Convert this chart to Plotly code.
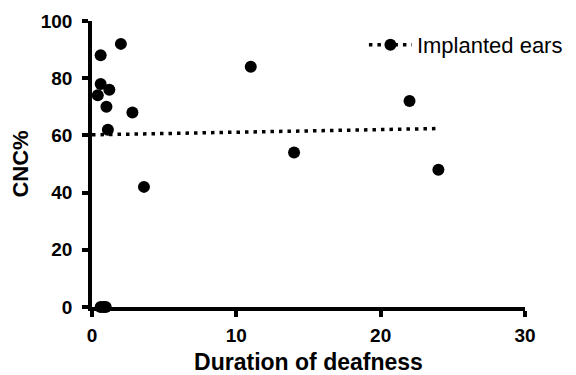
import plotly.graph_objects as go

duration = [0.6, 2, 0.6, 1.2, 0.4, 1, 2.8, 1.1, 3.6, 11, 14, 22, 24, 0.6, 0.8, 0.95]
cnc = [88, 92, 78, 76, 74, 70, 68, 62, 42, 84, 54, 72, 48, 0, 0, 0]
fit_x = [0, 24]
fit_y = [60.2, 62.4]
x_ticks = [0, 10, 20, 30]
y_ticks = [0, 20, 40, 60, 80, 100]

fig = go.Figure()
fig.add_trace(go.Scatter(x=fit_x, y=fit_y, mode="lines", showlegend=False,
                         line=dict(color="black", width=3.5, dash="3.5px,5px")))
fig.add_trace(go.Scatter(x=duration, y=cnc, mode="markers", showlegend=False,
                         marker=dict(color="black", size=12), cliponaxis=False))
fig.add_trace(go.Scatter(x=[None], y=[None], mode="lines+markers", name="Implanted ears",
                         line=dict(color="black", width=3.5, dash="3.5px,5px"),
                         marker=dict(color="black", size=12)))

axis_common = dict(showline=True, linecolor="black", linewidth=3.5, ticks="outside",
                   ticklen=6, tickwidth=3.5, tickcolor="black", showgrid=False, zeroline=False,
                   automargin=False,
                   tickfont=dict(family="Liberation Sans", size=19, color="black", weight="bold"))
fig.update_xaxes(range=[0, 30], tickvals=x_ticks, ticklabelstandoff=2,
                 title=dict(text="<b>Duration of deafness</b>", standoff=16,
                            font=dict(family="Liberation Sans", size=23, color="black")),
                 **axis_common)
fig.update_yaxes(range=[0, 100], tickvals=y_ticks, ticklabelstandoff=6,
                 title=dict(text="<b>CNC%</b>", standoff=10,
                            font=dict(family="Liberation Sans", size=22, color="black")),
                 **axis_common)
fig.update_layout(width=568, height=367, plot_bgcolor="white", paper_bgcolor="white",
                  margin=dict(l=84, r=51, t=13, b=68, autoexpand=False),
                  legend=dict(x=0.628, y=0.99, xanchor="left", yanchor="top",
                              bgcolor="rgba(0,0,0,0)", itemwidth=43,
                              font=dict(family="Liberation Sans", size=22, color="black")))
fig.write_html("out.html")
